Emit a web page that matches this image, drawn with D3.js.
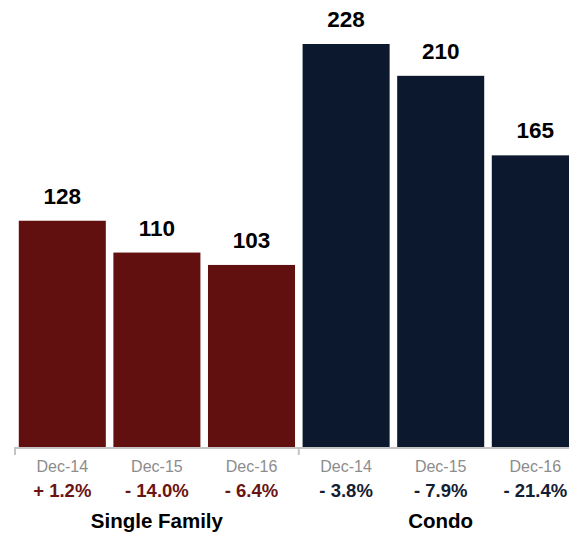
<!DOCTYPE html>
<html>
<head>
<meta charset="utf-8">
<script src="https://cdn.jsdelivr.net/npm/d3@7"></script>
<style>
  html, body { margin: 0; padding: 0; background: #ffffff; }
  svg { display: block; }
  text { font-family: "Liberation Sans", Arial, Helvetica, sans-serif; }
</style>
</head>
<body>
<svg id="chart" width="569" height="535"></svg>
<script>
// Median values by property type and period
const groups = ["Single Family", "Condo"];
const periods = ["Dec-14", "Dec-15", "Dec-16"];
const singleFamilyValues = [128, 110, 103];
const condoValues = [228, 210, 165];
const singleFamilyChange = ["+ 1.2%", "- 14.0%", "- 6.4%"];
const condoChange = ["- 3.8%", "- 7.9%", "- 21.4%"];

const groupColors = { "Single Family": "#620f0f", "Condo": "#0b182d" };
const changeColors = { "Single Family": "#6b1414", "Condo": "#131d33" };

const rows = [];
groups.forEach((g, gi) => {
  const vals = gi === 0 ? singleFamilyValues : condoValues;
  const chg = gi === 0 ? singleFamilyChange : condoChange;
  periods.forEach((p, pi) => {
    rows.push({ key: g + "|" + p, group: g, period: p, value: vals[pi], change: chg[pi] });
  });
});

const svg = d3.select("#chart");

const x = d3.scaleBand()
  .domain(rows.map(d => d.key))
  .range([15, 582.6])
  .paddingInner(0.08)
  .paddingOuter(0.04);

const y = d3.scaleLinear()
  .domain([0, 228])
  .range([447, 44]);

// Bars
svg.append("g")
  .selectAll("rect")
  .data(rows)
  .join("rect")
  .attr("x", d => x(d.key))
  .attr("y", d => y(d.value))
  .attr("width", x.bandwidth())
  .attr("height", d => y(0) - y(d.value))
  .attr("fill", d => groupColors[d.group]);

// Value labels
svg.append("g")
  .selectAll("text")
  .data(rows)
  .join("text")
  .attr("x", d => x(d.key) + x.bandwidth() / 2)
  .attr("y", d => y(d.value) - 17)
  .attr("text-anchor", "middle")
  .attr("font-size", "22.5px")
  .attr("font-weight", "bold")
  .attr("fill", "#000")
  .text(d => d.value);

// Axis baseline with group separators
const step = x.step();
const axisY = 448;
const [r0, r1] = x.range();
const boundaries = [r0, r0 + 3 * step];
const axis = svg.append("g");
axis.append("line")
  .attr("x1", r0).attr("x2", r1)
  .attr("y1", axisY).attr("y2", axisY)
  .attr("stroke", "#c4c4c4").attr("stroke-width", 2);
axis.selectAll("line.sep")
  .data(boundaries)
  .join("line")
  .attr("class", "sep")
  .attr("x1", d => d).attr("x2", d => d)
  .attr("y1", axisY - 1).attr("y2", 455)
  .attr("stroke", "#c4c4c4").attr("stroke-width", 2);

// Period labels
svg.append("g")
  .selectAll("text")
  .data(rows)
  .join("text")
  .attr("x", d => x(d.key) + x.bandwidth() / 2)
  .attr("y", 471.5)
  .attr("text-anchor", "middle")
  .attr("font-size", "16px")
  .attr("fill", "#8c8c8c")
  .text(d => d.period);

// Change labels
svg.append("g")
  .selectAll("text")
  .data(rows)
  .join("text")
  .attr("x", d => x(d.key) + x.bandwidth() / 2)
  .attr("y", 496.5)
  .attr("text-anchor", "middle")
  .attr("font-size", "18.5px")
  .attr("font-weight", "bold")
  .attr("fill", d => changeColors[d.group])
  .text(d => d.change);

// Group labels
svg.append("g")
  .selectAll("text")
  .data(groups)
  .join("text")
  .attr("x", (g, i) => r0 + (i * 3 + 1.5) * step)
  .attr("y", 528)
  .attr("text-anchor", "middle")
  .attr("font-size", "20.5px")
  .attr("font-weight", "bold")
  .attr("fill", "#000")
  .text(g => g);
</script>
</body>
</html>
